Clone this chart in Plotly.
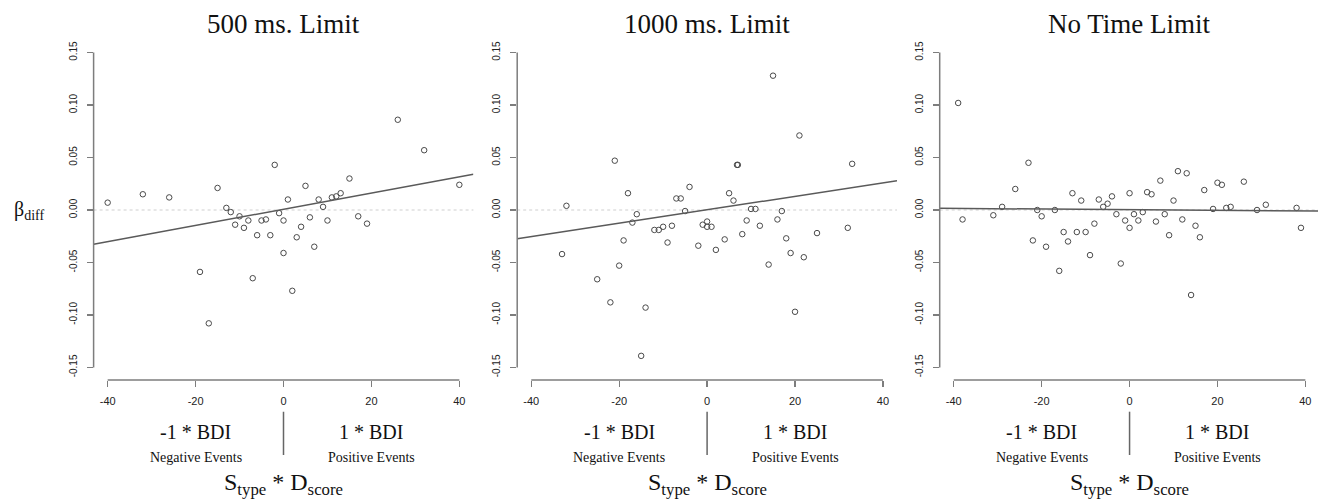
import plotly.graph_objects as go

# ---------------- data ----------------
panel_titles = ["500 ms. Limit", "1000 ms. Limit", "No Time Limit"]

x_500 = [-40, -32, -26, -19, -17, -15, -13, -12, -11, -10, -9, -8, -7, -6, -5, -4, -3, -2, -1, 0,
         0, 1, 2, 3, 4, 5, 6, 7, 8, 9, 10, 11, 12, 13, 15, 17, 19, 26, 32, 40]
y_500 = [0.007, 0.015, 0.012, -0.059, -0.108, 0.021, 0.002, -0.002, -0.014, -0.006, -0.017, -0.010,
         -0.065, -0.024, -0.010, -0.009, -0.024, 0.043, -0.003, -0.010, -0.041, 0.010, -0.077, -0.026,
         -0.016, 0.023, -0.007, -0.035, 0.010, 0.003, -0.010, 0.012, 0.013, 0.016, 0.030, -0.006,
         -0.013, 0.086, 0.057, 0.024]

x_1000 = [-33, -32, -25, -22, -21, -20, -19, -18, -17, -16, -15, -14, -12, -11, -10, -9, -8, -7, -6,
          -5, -4, -2, -1, 0, 0, 1, 2, 4, 5, 6, 6.8, 7, 8, 9, 10, 11, 12, 14, 15, 16, 17, 18, 19, 20,
          21, 22, 25, 32, 33]
y_1000 = [-0.042, 0.004, -0.066, -0.088, 0.047, -0.053, -0.029, 0.016, -0.012, -0.004, -0.139, -0.093,
          -0.019, -0.019, -0.016, -0.031, -0.015, 0.011, 0.011, -0.001, 0.022, -0.034, -0.014, -0.011,
          -0.016, -0.016, -0.038, -0.028, 0.016, 0.009, 0.043, 0.043, -0.023, -0.010, 0.001, 0.001,
          -0.015, -0.052, 0.128, -0.009, -0.001, -0.027, -0.041, -0.097, 0.071, -0.045, -0.022,
          -0.017, 0.044]

x_none = [-39, -38, -31, -29, -26, -23, -22, -21, -20, -19, -17, -16, -15, -14, -13, -12, -11, -10,
          -9, -8, -7, -6, -5, -4, -3, -2, -1, 0, 0, 1, 2, 3, 4, 5, 6, 7, 8, 9, 10, 11, 12, 13, 14,
          15, 16, 17, 19, 20, 21, 22, 23, 26, 29, 31, 38, 39]
y_none = [0.102, -0.009, -0.005, 0.003, 0.020, 0.045, -0.029, 0.000, -0.006, -0.035, 0.000, -0.058,
          -0.021, -0.030, 0.016, -0.021, 0.009, -0.021, -0.043, -0.013, 0.010, 0.003, 0.006, 0.013,
          -0.004, -0.051, -0.010, 0.016, -0.017, -0.004, -0.010, -0.002, 0.017, 0.015, -0.011, 0.028,
          -0.004, -0.024, 0.009, 0.037, -0.009, 0.035, -0.081, -0.015, -0.026, 0.019, 0.001, 0.026,
          0.024, 0.002, 0.003, 0.027, 0.000, 0.005, 0.002, -0.017]

fit_intercept = [0.0007, 0.0002, 0.0003]
fit_slope = [0.00077, 0.00064, -0.00003]

x_ticks = [-40, -20, 0, 20, 40]
x_tick_labels = ["-40", "-20", "0", "20", "40"]
y_ticks = [-0.15, -0.10, -0.05, 0.00, 0.05, 0.10, 0.15]
y_tick_labels = ["-0.15", "-0.10", "-0.05", "0.00", "0.05", "0.10", "0.15"]

group_labels = ["-1 * BDI", "1 * BDI"]
event_labels = ["Negative Events", "Positive Events"]
group_x = [-20, 20]
zero_ref = 0

# ---------------- layout geometry ----------------
W, H = 1318, 500
M_T, M_B = 40, 120
PH = H - M_T - M_B
domains = [[93.6 / W, 473.4 / W], [517.2 / W, 897.0 / W], [939.7 / W, 1.0]]
x_ranges = [[-43.2, 43.2], [-43.2, 43.2], [-43.2, -43.2 + (W - 939.7) / 4.395]]
y_range = [-0.162, 0.162]

def py(pix):
    return (H - M_B - pix) / PH

AX_COL = "#7d7d7d"
PT_COL = "#4a4a4a"
SERIF = "Liberation Serif, Times New Roman, serif"
SANS = "Liberation Sans, Arial, sans-serif"

fig = go.Figure()
series = [(x_500, y_500), (x_1000, y_1000), (x_none, y_none)]
shapes = []
annotations = []

for i, (xs, ys) in enumerate(series):
    sfx = "" if i == 0 else str(i + 1)
    xa, ya = "x" + sfx, "y" + sfx
    # points
    fig.add_trace(go.Scatter(
        x=xs, y=ys, mode="markers", xaxis=xa, yaxis=ya,
        marker=dict(symbol="circle-open", size=5.5, color=PT_COL, line=dict(width=1, color=PT_COL)),
        showlegend=False, hoverinfo="skip"))
    # regression line
    lx = x_ranges[i]
    fig.add_trace(go.Scatter(
        x=lx, y=[fit_intercept[i] + fit_slope[i] * v for v in lx], mode="lines",
        xaxis=xa, yaxis=ya, line=dict(color="#5a5a5a", width=1.5),
        showlegend=False, hoverinfo="skip"))

    fig.update_layout(**{
        ("xaxis" + sfx): dict(domain=domains[i], range=x_ranges[i], anchor=ya,
                             showgrid=False, zeroline=False, showline=False,
                             tickmode="array", tickvals=x_ticks, ticktext=x_tick_labels,
                             ticks="outside", ticklen=6, tickwidth=1.3, tickcolor=AX_COL,
                             ticklabelstandoff=5,
                             tickfont=dict(family=SANS, size=11, color="#222")),
        ("yaxis" + sfx): dict(domain=[0, 1], range=y_range, anchor=xa,
                             showgrid=False, zeroline=False, showline=False,
                             tickmode="array", tickvals=y_ticks, ticktext=y_tick_labels,
                             ticks="outside", ticklen=6, tickwidth=1.3, tickcolor=AX_COL,
                             tickangle=-90, ticklabelstandoff=6,
                             tickfont=dict(family=SANS, size=10, color="#222")),
    })

    # dotted zero reference line
    shapes.append(dict(type="line", xref=xa + " domain", yref=ya, x0=0, x1=1, y0=zero_ref, y1=zero_ref,
                       line=dict(color="#cfcfcf", width=1, dash="dot"), layer="below"))
    # R-style axis lines spanning only the tick range
    shapes.append(dict(type="line", xref=xa, yref=ya + " domain", x0=x_ticks[0], x1=x_ticks[-1],
                       y0=0, y1=0, line=dict(color=AX_COL, width=1.5)))
    shapes.append(dict(type="line", xref=xa + " domain", yref=ya, x0=0, x1=0,
                       y0=y_ticks[0], y1=y_ticks[-1], line=dict(color=AX_COL, width=1.5)))
    # separator between group labels
    shapes.append(dict(type="line", xref=xa, yref="paper", x0=0, x1=0, y0=py(411.7), y1=py(455),
                       line=dict(color="#666", width=1.5)))

    # title
    annotations.append(dict(text=panel_titles[i], xref=xa, yref="paper", x=0, y=py(24),
                            xanchor="center", yanchor="middle", showarrow=False,
                            font=dict(family=SERIF, size=27, color="#111")))
    for g in range(2):
        annotations.append(dict(text=group_labels[g], xref=xa, yref="paper", x=group_x[g], y=py(432),
                                xanchor="center", yanchor="middle", showarrow=False,
                                font=dict(family=SERIF, size=20, color="#111")))
        annotations.append(dict(text=event_labels[g], xref=xa, yref="paper", x=group_x[g], y=py(457),
                                xanchor="center", yanchor="middle", showarrow=False,
                                font=dict(family=SERIF, size=14, color="#111")))
    annotations.append(dict(text="S<sub>type</sub> * D<sub>score</sub>", xref=xa, yref="paper",
                            x=0, y=py(484), xanchor="center", yanchor="middle", showarrow=False,
                            font=dict(family=SERIF, size=24, color="#111")))

annotations.append(dict(text="β<sub>diff</sub>", xref="paper", yref="y", x=12 / W, y=zero_ref,
                        xanchor="left", yanchor="middle", showarrow=False,
                        font=dict(family=SERIF, size=20, color="#111")))

fig.update_layout(
    width=W, height=H,
    margin=dict(l=0, r=0, t=M_T, b=M_B),
    paper_bgcolor="white", plot_bgcolor="white",
    shapes=shapes, annotations=annotations, showlegend=False,
)

fig.write_html("out.html",
               config={"displayModeBar": False, "staticPlot": True},
               post_script="document.body.style.margin='0';document.body.style.padding='0';"
                           "document.body.style.overflow='hidden';")
